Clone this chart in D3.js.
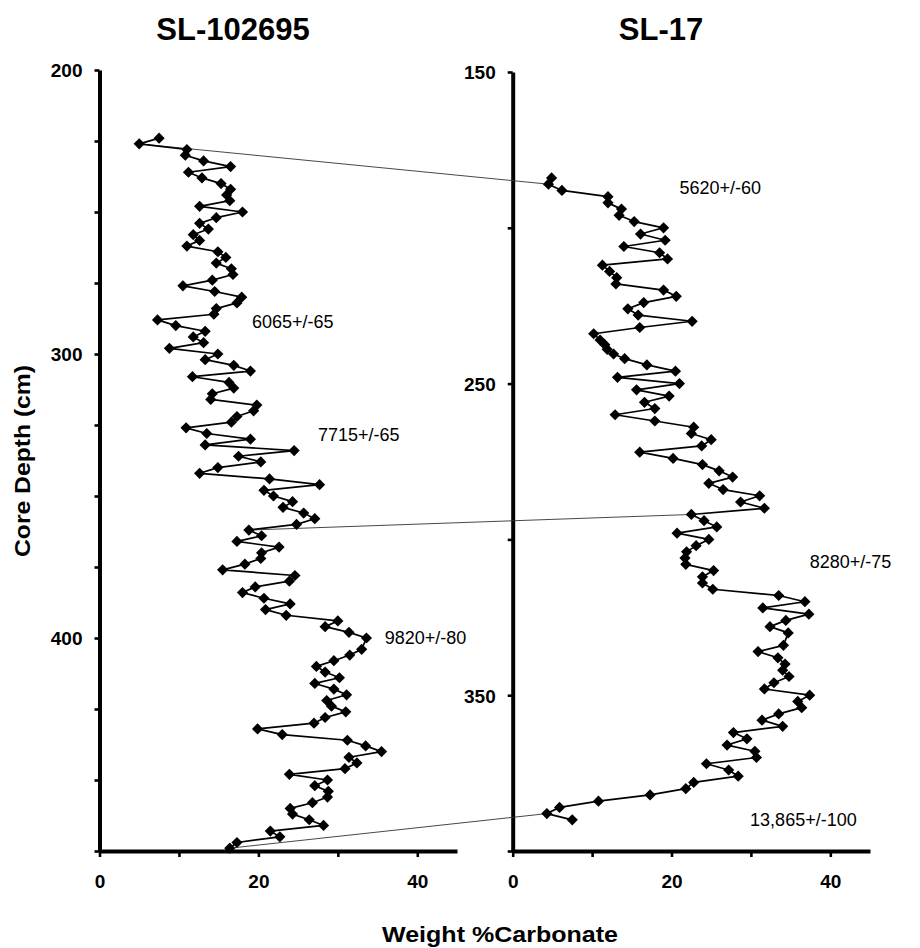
<!DOCTYPE html>
<html>
<head>
<meta charset="utf-8">
<script src="https://cdn.jsdelivr.net/npm/d3@7"></script>
<style>
  html, body { margin: 0; padding: 0; background: #fff; }
  svg { display: block; font-family: "Liberation Sans", Arial, Helvetica, sans-serif; }
</style>
</head>
<body>
<svg id="chart" width="920" height="948"></svg>
<script>
// Core SL-102695: depth (cm) and weight % carbonate
const sl102695Depth = [
  224, 226, 228, 230, 232, 234, 236, 238, 240, 242, 244, 246, 248, 250, 252, 254, 256, 258, 260, 262,
  264, 266, 268, 270, 272, 274, 276, 278, 280, 282, 284, 286, 288, 290, 292, 294, 296, 298, 300, 302,
  304, 306, 308, 310, 312, 314, 316, 318, 320, 322, 324, 326, 328, 330, 332, 334, 336, 338, 340, 342,
  344, 346, 348, 350, 352, 354, 356, 358, 360, 362, 364, 366, 368, 370, 372, 374, 376, 378, 380, 382,
  384, 386, 388, 390, 392, 394, 396, 398, 400, 404, 406, 408, 410, 412, 414, 416, 418, 420, 422, 424,
  426, 428, 430, 432, 434, 436, 438, 440, 442, 444, 446, 448, 450, 452, 454, 456, 458, 460, 462, 464,
  466, 468, 470, 472, 474
];
const sl102695Carbonate = [
  7.5, 5.0, 11.0, 10.8, 13.1, 16.5, 11.2, 12.9, 15.3, 16.5, 16.0, 16.4, 12.6, 18.0, 14.7, 12.6, 13.7, 11.8, 12.6, 11.0,
  14.9, 15.9, 14.7, 16.6, 16.8, 14.2, 10.5, 14.5, 17.9, 17.3, 14.7, 14.4, 7.3, 9.6, 13.3, 11.8, 13.1, 8.8, 14.9, 13.3,
  16.9, 19.0, 11.7, 16.3, 16.9, 14.2, 14.0, 19.8, 19.4, 17.3, 16.6, 10.9, 13.5, 19.0, 13.3, 24.5, 17.5, 20.3, 14.9, 12.6,
  21.4, 27.7, 20.7, 21.9, 24.3, 23.1, 25.7, 27.1, 24.8, 18.8, 20.4, 17.3, 22.6, 20.4, 20.3, 18.3, 15.5, 24.6, 23.9, 19.6,
  18.0, 20.7, 24.0, 20.9, 23.5, 30.0, 28.4, 31.4, 33.6, 33.0, 31.5, 29.5, 27.3, 28.4, 30.2, 27.1, 29.5, 31.1, 28.6, 29.2,
  31.0, 28.4, 27.0, 19.9, 23.0, 31.2, 33.5, 35.5, 31.4, 32.4, 30.9, 23.9, 28.7, 27.1, 28.8, 28.7, 26.8, 24.0, 24.3, 26.4,
  28.2, 21.5, 22.7, 17.3, 16.4
];

// Core SL-17: depth (cm) and weight % carbonate
const sl17Depth = [
  184, 186, 188, 190, 192, 194, 196, 198, 200, 202, 204, 206, 208, 210, 212, 214, 216, 218, 220, 222,
  224, 226, 228, 230, 232, 234, 236, 237.5, 239, 240.5, 242, 244, 246, 248, 250, 252, 254, 256, 258, 260,
  262, 264, 266, 268, 270, 272, 274, 276, 278, 280, 282, 284, 286, 288, 290, 292, 294, 296, 298, 300,
  302, 304, 306, 308, 310, 312, 314, 316, 318, 320, 322, 324, 326, 328, 330, 334, 336, 338, 340, 342,
  344, 346, 348, 350, 352, 354, 356, 358, 360, 362, 364, 366, 368, 370, 372, 374, 376, 378, 380, 382,
  384, 386, 388, 390
];
const sl17Carbonate = [
  4.9, 4.5, 6.2, 12.0, 12.0, 13.7, 13.4, 15.3, 19.0, 16.1, 19.2, 14.0, 18.5, 19.5, 11.3, 12.2, 13.1, 13.0, 19.0, 20.6,
  16.5, 14.5, 15.8, 22.6, 16.0, 10.2, 11.0, 11.6, 11.9, 12.7, 14.1, 16.9, 20.5, 13.2, 21.0, 15.6, 19.7, 16.6, 17.9, 12.9,
  17.9, 22.8, 22.5, 25.0, 23.8, 16.0, 20.2, 23.9, 26.0, 27.7, 24.7, 26.5, 31.1, 28.7, 31.7, 22.5, 24.1, 25.7, 20.7, 24.7,
  23.1, 21.9, 21.7, 21.8, 25.3, 23.9, 23.9, 25.2, 33.5, 36.8, 31.5, 37.3, 34.4, 32.4, 34.7, 34.1, 30.9, 33.4, 34.3, 34.0,
  34.8, 32.9, 31.7, 37.4, 35.9, 36.4, 33.5, 31.4, 34.0, 27.8, 29.5, 27.0, 30.5, 30.7, 24.4, 27.2, 28.4, 22.8, 21.8, 17.3,
  10.8, 5.9, 4.3, 7.5
];

// Radiocarbon ages and the core depth each one is written beside
const sl102695Ages = ["6065+/-65", "7715+/-65", "9820+/-80"];
const sl102695AgeDepth = [288.7, 328.2, 400];
const sl102695AgeCarbonate = [19.2, 27.5, 35.9];
const sl17Ages = ["5620+/-60", "8280+/-75", "13,865+/-100"];
const sl17AgeDepth = [187, 307, 390];
const sl17AgeCarbonate = [21.0, 37.4, 29.9];

// Correlated horizons: depth in SL-102695 -> depth in SL-17
const tieFromDepth = [226, 362, 474];
const tieToDepth = [186, 292, 388];

// Axis ticks
const xTicks = [0, 10, 20, 30, 40];
const xTickLabels = [0, 20, 40];
const sl102695YTicks = d3.range(200, 476, 25);
const sl102695YLabels = [200, 300, 400];
const sl17YTicks = d3.range(150, 401, 50);
const sl17YLabels = [150, 250, 350];

const svg = d3.select("#chart");

const xL = d3.scaleLinear().domain([0, 45]).range([99.5, 457]);
const yL = d3.scaleLinear().domain([200, 475]).range([70, 851]);
const xR = d3.scaleLinear().domain([0, 45]).range([512.7, 870]);
const yR = d3.scaleLinear().domain([150, 400]).range([72, 851]);

const diamond = "M0,-5.6L5.6,0L0,5.6L-5.6,0Z";

function drawAxes(x, y, yTicks, yLabels) {
  const gx = svg.append("g")
    .attr("transform", `translate(0,${y.range()[1]})`)
    .call(d3.axisBottom(x)
      .tickValues(xTicks)
      .tickFormat(d => xTickLabels.includes(d) ? d : "")
      .tickSize(6).tickSizeOuter(0).tickPadding(18));
  const gy = svg.append("g")
    .attr("transform", `translate(${x.range()[0]},0)`)
    .call(d3.axisLeft(y)
      .tickValues(yTicks)
      .tickFormat(d => yLabels.includes(d) ? d : "")
      .tickSize(5).tickSizeOuter(0).tickPadding(12));
  [gx, gy].forEach(g => {
    g.select(".domain").attr("stroke", "#000").attr("stroke-width", 4);
    g.selectAll(".tick line").attr("stroke", "#000").attr("stroke-width", 2.6);
    g.selectAll(".tick text")
      .attr("fill", "#000")
      .style("font-family", "'Liberation Sans', Arial, sans-serif")
      .style("font-size", "19px")
      .style("font-weight", "bold");
  });
  gy.selectAll(".tick text").attr("dy", "0.36em");
}

drawAxes(xL, yL, sl102695YTicks, sl102695YLabels);
drawAxes(xR, yR, sl17YTicks, sl17YLabels);

// Tie lines between the dated horizons of both cores
const tieG = svg.append("g");
tieFromDepth.forEach((d, i) => {
  const v1 = sl102695Carbonate[sl102695Depth.indexOf(d)];
  const v2 = sl17Carbonate[sl17Depth.indexOf(tieToDepth[i])];
  tieG.append("line")
    .attr("x1", xL(v1)).attr("y1", yL(d))
    .attr("x2", xR(v2)).attr("y2", yR(tieToDepth[i]))
    .attr("stroke", "#333").attr("stroke-width", 0.9);
});

function drawSeries(x, y, depth, carb) {
  const pts = depth.map((d, i) => [carb[i], d]);
  svg.append("path")
    .datum(pts)
    .attr("fill", "none")
    .attr("stroke", "#000")
    .attr("stroke-width", 1.7)
    .attr("stroke-linejoin", "round")
    .attr("d", d3.line().x(p => x(p[0])).y(p => y(p[1])));
  svg.append("g").selectAll("path")
    .data(pts)
    .join("path")
    .attr("d", diamond)
    .attr("transform", p => `translate(${x(p[0])},${y(p[1])})`)
    .attr("fill", "#000");
}

drawSeries(xL, yL, sl102695Depth, sl102695Carbonate);
drawSeries(xR, yR, sl17Depth, sl17Carbonate);

// Age annotations
function drawAges(x, y, ages, depths, carbs) {
  svg.append("g").selectAll("text")
    .data(ages)
    .join("text")
    .attr("x", (t, i) => x(carbs[i]))
    .attr("y", (t, i) => y(depths[i]))
    .attr("dy", "0.36em")
    .style("font-size", "18px")
    .attr("fill", "#000")
    .text(t => t);
}
drawAges(xL, yL, sl102695Ages, sl102695AgeDepth, sl102695AgeCarbonate);
drawAges(xR, yR, sl17Ages, sl17AgeDepth, sl17AgeCarbonate);

// Panel titles
svg.append("text").attr("x", 233).attr("y", 40).attr("text-anchor", "middle")
  .style("font-size", "31px").style("font-weight", "bold").text("SL-102695");
svg.append("text").attr("x", 661).attr("y", 40).attr("text-anchor", "middle")
  .style("font-size", "31px").style("font-weight", "bold").text("SL-17");

// Axis titles
svg.append("text")
  .attr("transform", "translate(30,461) rotate(-90)")
  .attr("text-anchor", "middle")
  .attr("textLength", 192).attr("lengthAdjust", "spacingAndGlyphs")
  .style("font-size", "22px").style("font-weight", "bold")
  .text("Core Depth (cm)");
svg.append("text")
  .attr("x", 500).attr("y", 942)
  .attr("text-anchor", "middle")
  .attr("textLength", 236).attr("lengthAdjust", "spacingAndGlyphs")
  .style("font-size", "22px").style("font-weight", "bold")
  .text("Weight %Carbonate");
</script>
</body>
</html>
